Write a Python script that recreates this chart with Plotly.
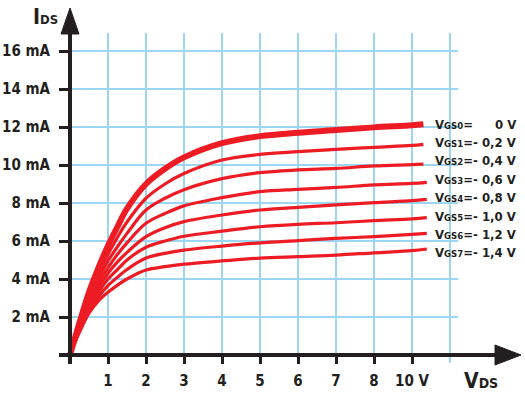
import plotly.graph_objects as go

# ---------------- data ----------------
vds = [0, 0.25, 0.5, 0.75, 1, 1.25, 1.5, 2, 2.5, 3, 4, 5, 6, 7, 8, 9]
ids_vgs0 = [0, 1.7, 3.3, 4.6, 5.75, 6.75, 7.7, 9.0, 9.8, 10.4, 11.15, 11.52, 11.7, 11.84, 11.98, 12.09]
ids_vgs1 = [0, 1.63, 3.1, 4.3, 5.3, 6.2, 7.0, 8.25, 9.0, 9.55, 10.26, 10.56, 10.7, 10.82, 10.93, 11.03]
ids_vgs2 = [0, 1.56, 2.95, 4.05, 4.95, 5.7, 6.4, 7.63, 8.25, 8.7, 9.28, 9.6, 9.74, 9.82, 9.95, 10.02]
ids_vgs3 = [0, 1.49, 2.8, 3.8, 4.6, 5.3, 5.9, 6.93, 7.45, 7.85, 8.28, 8.6, 8.72, 8.82, 8.95, 9.03]
ids_vgs4 = [0, 1.42, 2.65, 3.55, 4.3, 4.9, 5.4, 6.23, 6.7, 7.02, 7.37, 7.63, 7.77, 7.9, 8.02, 8.12]
ids_vgs5 = [0, 1.35, 2.5, 3.3, 4.0, 4.5, 5.0, 5.67, 6.0, 6.25, 6.52, 6.75, 6.88, 6.96, 7.07, 7.16]
ids_vgs6 = [0, 1.28, 2.35, 3.07, 3.65, 4.1, 4.5, 5.1, 5.35, 5.52, 5.73, 5.9, 6.02, 6.14, 6.23, 6.35]
ids_vgs7 = [0, 1.2, 2.2, 2.85, 3.3, 3.68, 4.0, 4.47, 4.65, 4.78, 4.95, 5.1, 5.18, 5.26, 5.38, 5.49]
vds_end = [9.3, 9.3, 9.3, 9.39, 9.39, 9.39, 9.39, 9.39]
ids_end = [12.14, 11.09, 10.05, 9.09, 8.19, 7.23, 6.4, 5.58]

curve_names = ["VGS0", "VGS1", "VGS2", "VGS3", "VGS4", "VGS5", "VGS6", "VGS7"]
curve_values = ["0 V", "- 0,2 V", "- 0,4 V", "- 0,6 V", "- 0,8 V", "- 1,0 V", "- 1,2 V", "- 1,4 V"]

x_tickvals = [1, 2, 3, 4, 5, 6, 7, 8, 9]
x_ticktext = ["1", "2", "3", "4", "5", "6", "7", "8", "10 V"]
y_tickvals = [2, 4, 6, 8, 10, 12, 14, 16]
y_ticktext = ["2 mA", "4 mA", "6 mA", "8 mA", "10 mA", "12 mA", "14 mA", "16 mA"]
grid_x = [1, 2, 3, 4, 5, 6, 7, 8, 9, 10]
grid_y = [2, 4, 6, 8, 10, 12, 14, 16]

# ---------------- geometry helpers ----------------
W, H = 525, 394
OX, OY = 70, 355          # pixel position of origin
SX, SY = 38.0, 19.0       # pixels per unit


def dx(px):
    return (px - OX) / SX


def dy(py):
    return (OY - py) / SY


RED = "#ed1c24"
DARK = "#231f20"
GRID = "#9dd6f2"
FONT = "Liberation Sans Narrow, DejaVu Sans Condensed, Arial Narrow, sans-serif"

series = [ids_vgs0, ids_vgs1, ids_vgs2, ids_vgs3, ids_vgs4, ids_vgs5, ids_vgs6, ids_vgs7]

fig = go.Figure()
for i, ys in enumerate(series):
    fig.add_trace(go.Scatter(
        x=vds + [vds_end[i]], y=ys + [ids_end[i]],
        mode="lines",
        line=dict(color=RED, width=6 if i == 0 else 3.2, shape="spline", smoothing=1.0),
        hoverinfo="skip", name=curve_names[i],
    ))

shapes = []
# grid
for gx in grid_x:
    shapes.append(dict(type="line", xref="x", yref="y", x0=gx, x1=gx,
                       y0=dy(363) if gx == grid_x[-1] else 0, y1=dy(33),
                       line=dict(color=GRID, width=2), layer="below"))
for gy in grid_y:
    shapes.append(dict(type="line", xref="x", yref="y", x0=0, x1=dx(458), y0=gy, y1=gy,
                       line=dict(color=GRID, width=2), layer="below"))
# axes
shapes.append(dict(type="line", xref="x", yref="y", x0=dx(59), x1=dx(500), y0=0, y1=0,
                   line=dict(color=DARK, width=4)))
shapes.append(dict(type="line", xref="x", yref="y", x0=0, x1=0, y0=dy(364), y1=dy(30),
                   line=dict(color=DARK, width=4)))
# arrowheads
shapes.append(dict(type="path", xref="x", yref="y",
                   path=f"M {dx(495)},{dy(345)} L {dx(521)},{dy(355)} L {dx(495)},{dy(365)} Z",
                   fillcolor=DARK, line=dict(color=DARK, width=1)))
shapes.append(dict(type="path", xref="x", yref="y",
                   path=f"M {dx(61)},{dy(34)} L {dx(70)},{dy(8)} L {dx(79)},{dy(34)} Z",
                   fillcolor=DARK, line=dict(color=DARK, width=1)))

annotations = []
# axis titles
annotations.append(dict(xref="x", yref="y", x=dx(31), y=dy(17), xanchor="left", yanchor="middle",
                        text="I<span style='font-size:13px'>DS</span>", showarrow=False,
                        font=dict(family=FONT, size=21, color=DARK, weight="bold")))
annotations.append(dict(xref="x", yref="y", x=dx(462), y=dy(381), xanchor="left", yanchor="middle",
                        text="V<span style='font-size:14px'>DS</span>", showarrow=False,
                        font=dict(family=FONT, size=21, color=DARK, weight="bold")))
# curve labels
for i in range(len(curve_names)):
    ly = dy(124 + i * 18.4)
    annotations.append(dict(xref="x", yref="y", x=dx(433), y=ly, xanchor="left", yanchor="middle",
                            text="V<span style='font-size:9.5px'>" + curve_names[i][1:] + "</span>=",
                            showarrow=False,
                            font=dict(family=FONT, size=13, color=DARK, weight="bold")))
    annotations.append(dict(xref="x", yref="y", x=dx(518), y=ly, xanchor="right", yanchor="middle",
                            text=curve_values[i], showarrow=False,
                            font=dict(family=FONT, size=13, color=DARK, weight="bold")))

fig.update_layout(
    width=W, height=H,
    margin=dict(l=0, r=0, t=0, b=0),
    paper_bgcolor="white", plot_bgcolor="white",
    showlegend=False,
    shapes=shapes, annotations=annotations,
    xaxis=dict(range=[dx(0), dx(W)], anchor="free", position=(H - OY) / H,
               tickvals=x_tickvals, ticktext=x_ticktext,
               ticks="outside", ticklen=8, tickwidth=2.5, tickcolor=DARK,
               showgrid=False, zeroline=False, showline=False, automargin=False,
               ticklabelstandoff=4,
               tickfont=dict(family=FONT, size=15, color=DARK, weight="bold")),
    yaxis=dict(range=[dy(H), dy(0)], anchor="free", position=OX / W,
               tickvals=y_tickvals, ticktext=y_ticktext,
               ticks="outside", ticklen=11, tickwidth=2.5, tickcolor=DARK,
               showgrid=False, zeroline=False, showline=False, automargin=False,
               ticklabelstandoff=6,
               tickfont=dict(family=FONT, size=15, color=DARK, weight="bold")),
)

fig.write_html("out.html", config={"displayModeBar": False},
               post_script="document.body.style.margin='0';document.body.style.padding='0';")
